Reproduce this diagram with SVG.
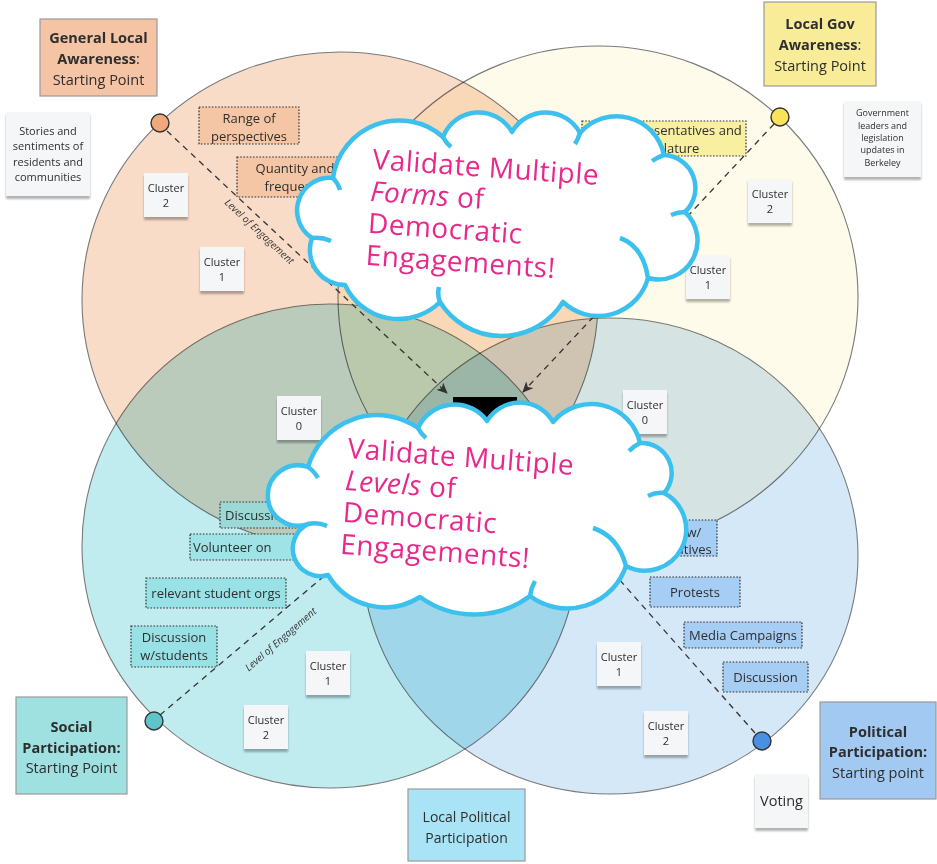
<svg xmlns="http://www.w3.org/2000/svg" width="937" height="864" viewBox="0 0 937 864">
<defs>
<style>
.circ{mix-blend-mode:multiply;stroke:#7a7a7a;stroke-width:1.1}
.t{font-family:"Open Sans","Noto Sans","DejaVu Sans",sans-serif;fill:#2e2e2e;text-anchor:middle}
.b{font-weight:700}
.dot{stroke:#333;stroke-width:1.4}
.dash{fill:none;stroke:#333;stroke-width:1.3;stroke-dasharray:6 5}
.box{stroke:#333;stroke-width:1.2;stroke-dasharray:1.6 1.6}
.sp{stroke:#9a9a9a;stroke-width:1.2}
.note{fill:#f4f6f8;filter:url(#sh)}
.cloud{fill:#fff;stroke:#3cc0ee;stroke-width:4.5;stroke-linejoin:round}
.inner{fill:none;stroke:#3cc0ee;stroke-width:4.5;stroke-linecap:butt}
.ct{font-family:"Open Sans","Noto Sans",sans-serif;fill:#e8298b;font-size:28px;letter-spacing:0.5px}
.loe{font-family:"Open Sans","Noto Sans",sans-serif;font-style:italic;font-size:10px;fill:#333;text-anchor:middle}
</style>
<filter id="sh" x="-20%" y="-20%" width="140%" height="160%">
<feDropShadow dx="0" dy="3" stdDeviation="1.3" flood-color="#000" flood-opacity="0.3"/>
</filter>
<marker id="arr" markerUnits="userSpaceOnUse" markerWidth="14" markerHeight="12" refX="10" refY="5" orient="auto">
<path d="M0,0 L11,5 L0,10 L3,5 Z" fill="#333"/>
</marker>
</defs>
<rect width="937" height="864" fill="#fff"/>

<g id="venn" style="isolation:isolate">
<ellipse id="circle-awareness" class="circ" cx="340" cy="300" rx="258" ry="248" fill="#f8dcc8"/>
<ellipse id="circle-gov" class="circ" cx="598" cy="297" rx="260" ry="251" fill="#fffbea"/>
<ellipse id="circle-social" class="circ" cx="330" cy="546" rx="248" ry="242" fill="#c0ecf0"/>
<ellipse id="circle-political" class="circ" cx="610" cy="556" rx="248" ry="238" fill="#d5e8f8"/>
</g>

<g id="connectors">
<path class="dash" d="M167,131 L447,393" marker-end="url(#arr)"/>
<path class="dash" d="M774,124 L523,392" marker-end="url(#arr)"/>
<path class="dash" d="M160,715 L330,571"/>
<path class="dash" d="M755,733 L618,578"/>
<text class="loe" transform="translate(257,234) rotate(43)">Level of Engagement</text>
<text class="loe" transform="translate(283,642) rotate(-41)">Level of Engagement</text>
</g>

<g id="dot-awareness"><circle class="dot" cx="160" cy="123" r="9" fill="#f0a97c"/></g>
<g id="dot-gov"><circle class="dot" cx="780" cy="117" r="9" fill="#f8e45a"/></g>
<g id="dot-social"><circle class="dot" cx="154" cy="721" r="9" fill="#5ec6ca"/></g>
<g id="dot-political"><circle class="dot" cx="762" cy="741" r="9" fill="#4a90e2"/></g>

<g id="start-awareness">
<rect class="sp" x="40" y="19" width="117" height="77" fill="#f4c4a5"/>
<text class="t" font-size="14.5"><tspan class="b" x="98.5" y="43">General Local</tspan><tspan x="98.5" y="64"><tspan class="b">Awareness</tspan>:</tspan><tspan x="98.5" y="85">Starting Point</tspan></text>
</g>
<g id="start-gov">
<rect class="sp" x="764" y="2" width="112" height="84" fill="#f8ec98"/>
<text class="t" font-size="14.5"><tspan class="b" x="820" y="29">Local Gov</tspan><tspan x="820" y="50"><tspan class="b">Awareness</tspan>:</tspan><tspan x="820" y="71">Starting Point</tspan></text>
</g>
<g id="start-social">
<rect class="sp" x="16" y="697" width="111" height="97" fill="#9fe0e1"/>
<text class="t" font-size="14.5"><tspan class="b" x="71.5" y="732">Social</tspan><tspan class="b" x="71.5" y="753">Participation:</tspan><tspan x="71.5" y="773">Starting Point</tspan></text>
</g>
<g id="start-political">
<rect class="sp" x="820" y="702" width="116" height="97" fill="#a2c9f1"/>
<text class="t" font-size="14.5"><tspan class="b" x="878" y="737">Political</tspan><tspan class="b" x="878" y="757">Participation:</tspan><tspan x="878" y="778">Starting point</tspan></text>
</g>
<g id="local-political">
<rect class="sp" x="408" y="789" width="117" height="72" fill="#a9e4f6"/>
<text class="t" font-size="14"><tspan x="466.5" y="822">Local Political</tspan><tspan x="466.5" y="843">Participation</tspan></text>
</g>

<g id="note-stories">
<rect class="note" x="6" y="112" width="84" height="84"/>
<text class="t" font-size="11"><tspan x="48" y="135">Stories and</tspan><tspan x="48" y="150">sentiments of</tspan><tspan x="48" y="166">residents and</tspan><tspan x="48" y="181">communities</tspan></text>
</g>
<g id="note-government">
<rect class="note" x="844" y="101" width="77" height="76"/>
<text class="t" font-size="9"><tspan x="882.5" y="116">Government</tspan><tspan x="882.5" y="129">leaders and</tspan><tspan x="882.5" y="141">legislation</tspan><tspan x="882.5" y="153">updates in</tspan><tspan x="882.5" y="166">Berkeley</tspan></text>
</g>
<g id="note-voting">
<rect class="note" x="755" y="774" width="53" height="54"/>
<text class="t" font-size="14.5" x="781.5" y="806">Voting</text>
</g>

<g id="cluster-a2"><rect class="note" x="144" y="173" width="44" height="44"/><text class="t" font-size="11"><tspan x="166" y="192">Cluster</tspan><tspan x="166" y="207">2</tspan></text></g>
<g id="cluster-a1"><rect class="note" x="200" y="247" width="44" height="44"/><text class="t" font-size="11"><tspan x="222" y="266">Cluster</tspan><tspan x="222" y="281">1</tspan></text></g>
<g id="cluster-g2"><rect class="note" x="748" y="179" width="44" height="44"/><text class="t" font-size="11"><tspan x="770" y="198">Cluster</tspan><tspan x="770" y="213">2</tspan></text></g>
<g id="cluster-g1"><rect class="note" x="686" y="255" width="44" height="44"/><text class="t" font-size="11"><tspan x="708" y="274">Cluster</tspan><tspan x="708" y="289">1</tspan></text></g>
<g id="cluster-as0"><rect class="note" x="277" y="396" width="44" height="44"/><text class="t" font-size="11"><tspan x="299" y="415">Cluster</tspan><tspan x="299" y="430">0</tspan></text></g>
<g id="cluster-gp0"><rect class="note" x="623" y="390" width="44" height="44"/><text class="t" font-size="11"><tspan x="645" y="409">Cluster</tspan><tspan x="645" y="424">0</tspan></text></g>
<g id="cluster-s1"><rect class="note" x="306" y="651" width="44" height="44"/><text class="t" font-size="11"><tspan x="328" y="670">Cluster</tspan><tspan x="328" y="685">1</tspan></text></g>
<g id="cluster-s2"><rect class="note" x="244" y="705" width="44" height="44"/><text class="t" font-size="11"><tspan x="266" y="724">Cluster</tspan><tspan x="266" y="739">2</tspan></text></g>
<g id="cluster-p1"><rect class="note" x="597" y="642" width="44" height="44"/><text class="t" font-size="11"><tspan x="619" y="661">Cluster</tspan><tspan x="619" y="676">1</tspan></text></g>
<g id="cluster-p2"><rect class="note" x="644" y="711" width="44" height="44"/><text class="t" font-size="11"><tspan x="666" y="730">Cluster</tspan><tspan x="666" y="745">2</tspan></text></g>

<g id="box-range"><rect class="box" x="199" y="107" width="100" height="37" fill="#f5c6a5"/><text class="t" font-size="13"><tspan x="249" y="123">Range of</tspan><tspan x="249" y="141">perspectives</tspan></text></g>
<g id="box-quantity"><rect class="box" x="237" y="157" width="116" height="40" fill="#f5c6a5"/><text class="t" font-size="13"><tspan x="295" y="173">Quantity and</tspan><tspan x="295" y="191">frequency</tspan></text></g>
<g id="box-reps"><rect class="box" x="582" y="121" width="164" height="35" fill="#f8f0a0"/><text class="t" font-size="13"><tspan x="664" y="135">Local representatives and</tspan><tspan x="668" y="153">legislature</tspan></text></g>
<g id="box-discussion-s"><rect class="box" x="220" y="502" width="110" height="26" fill="#9cd9d6"/><text class="t" font-size="13" style="text-anchor:start" x="225" y="520">Discussion</text></g>
<g id="box-volunteer"><rect class="box" x="190" y="534" width="135" height="26" fill="#a0e3e6"/><text class="t" font-size="13" style="text-anchor:start" x="193" y="552">Volunteer on</text></g>
<g id="box-orgs"><rect class="box" x="146" y="578" width="140" height="30" fill="#98e2e6"/><text class="t" font-size="13" x="216" y="598">relevant student orgs</text></g>
<g id="box-students"><rect class="box" x="131" y="626" width="86" height="41" fill="#98e2e6"/><text class="t" font-size="13"><tspan x="174" y="642">Discussion</tspan><tspan x="174" y="660">w/students</tspan></text></g>
<g id="box-meet"><rect class="box" x="612" y="520" width="105" height="36" fill="#a6cdf3"/><text class="t" font-size="13"><tspan x="664.5" y="537">Meetings w/</tspan><tspan x="664.5" y="554">representatives</tspan></text></g>
<g id="box-protests"><rect class="box" x="650" y="577" width="90" height="30" fill="#a6cdf3"/><text class="t" font-size="13" x="695" y="597">Protests</text></g>
<g id="box-media"><rect class="box" x="684" y="622" width="118" height="26" fill="#a6cdf3"/><text class="t" font-size="13" x="743" y="640">Media Campaigns</text></g>
<g id="box-discussion-p"><rect class="box" x="723" y="662" width="85" height="30" fill="#a6cdf3"/><text class="t" font-size="13" x="765.5" y="682">Discussion</text></g>

<g id="center-target"><rect x="453" y="397" width="64" height="40" fill="#000"/></g>

<g id="cloud-forms">
<path class="cloud" d="M345,285 A35,35 0 0 1 312,238 A32.7,32.7 0 0 1 333,178 A66.7,66.7 0 0 1 443,137 A38.2,38.2 0 0 1 512,132 A38.9,38.9 0 0 1 580,133 A48.4,48.4 0 0 1 664,155 A33,33 0 0 1 685,212 A38.9,38.9 0 0 1 648,278 A51.5,51.5 0 0 1 563,302 A72.6,72.6 0 0 1 440,302 A59,59 0 0 1 345,285 Z"/>
<path class="inner" d="M620,238 Q643,246 648,278 M443,137 Q446,143 451,147 M580,133 Q578,139 575,144 M664,155 Q658,157 652,161 M685,212 Q678,212 671,215 M312,238 Q322,237 331,241 M333,178 Q338,183 340,190 M440,302 Q437,295 439,287"/>
<text class="ct" transform="rotate(4 372 169)"><tspan x="372" y="169">Validate Multiple</tspan><tspan x="372" y="201"><tspan font-style="italic">Forms</tspan> of</tspan><tspan x="372" y="233">Democratic</tspan><tspan x="372" y="265">Engagements!</tspan></text>
</g>

<g id="cloud-levels">
<path class="cloud" d="M328,575 A27.5,27.5 0 0 1 308,524 A30.2,30.2 0 1 1 308,467 A71.8,71.8 0 0 1 418,428 A40.1,40.1 0 0 1 487,421 A38.2,38.2 0 0 1 553,422 A49.8,49.8 0 0 1 640,443 A30,30 0 0 1 664,493 A40,40 0 1 1 626,566 A62,62 0 0 1 530,596 A93,93 0 0 1 420,597 A66,66 0 0 1 328,575 Z"/>
<path class="inner" d="M593,528 Q618,536 626,566 M640,443 Q634,446 629,451 M664,493 Q656,492 648,496 M418,428 Q421,434 426,438 M308,524 Q318,522 327,526 M308,467 Q314,471 318,478 M530,596 Q531,588 535,581"/>
<text class="ct" transform="rotate(4.3 347 458)"><tspan x="347" y="458">Validate Multiple</tspan><tspan x="347" y="490"><tspan font-style="italic">Levels</tspan> of</tspan><tspan x="347" y="522">Democratic</tspan><tspan x="347" y="554">Engagements!</tspan></text>
</g>
</svg>
